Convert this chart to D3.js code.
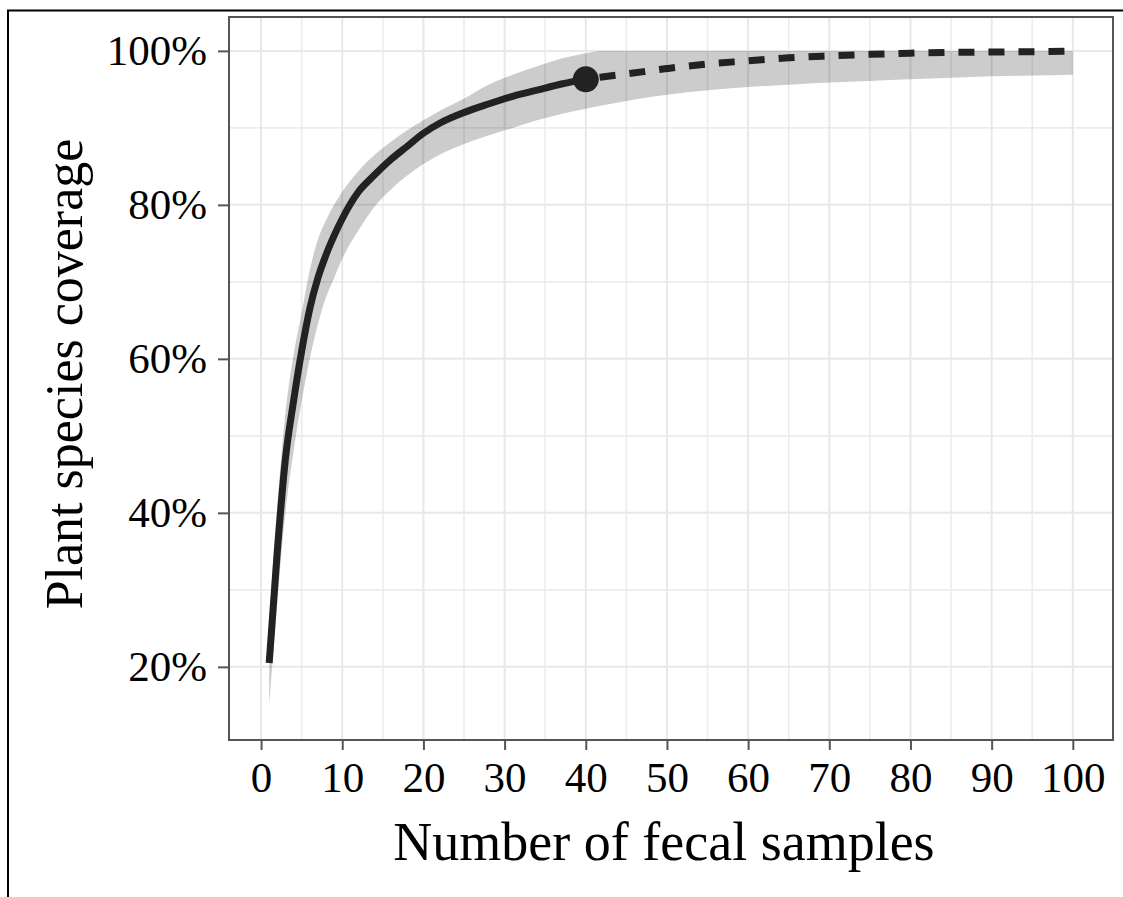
<html>
<head>
<script src="https://d3js.org/d3.v7.min.js"></script>
<style>
  body { margin: 0; background: #fff; }
  text { font-family: "Liberation Serif", "Times New Roman", serif; fill: #000; }
</style>
</head>
<body>
<svg width="1123" height="897"></svg>
<script>
// rarefaction part (observed samples)
const sizes    = [1, 2, 3, 4, 5, 6, 7, 8, 9, 10, 12, 14, 16, 18, 20, 22, 25, 28, 31, 34, 37, 40];
const coverage = [20.5, 35, 47, 54.5, 61, 66.5, 70.5, 73.5, 76, 78.2, 81.7, 83.9, 85.9, 87.6, 89.3, 90.6, 92.0, 93.1, 94.1, 94.9, 95.7, 96.3];
const lower    = [15, 28.5, 40, 48, 54.5, 60, 64.5, 68, 70.5, 73, 76.7, 79.8, 82, 83.8, 85.3, 86.5, 87.9, 89.0, 90.0, 91.0, 91.8, 92.5];
const upper    = [26, 41, 53, 60.5, 66, 71.5, 75.5, 78, 80, 81.7, 84.4, 86.5, 88.2, 89.7, 91, 92.2, 93.8, 95.6, 96.9, 98.0, 99.0, 99.7];

// extrapolation part
const extSizes    = [40, 42, 45, 50, 55, 60, 65, 70, 75, 80, 85, 90, 95, 100];
const extCoverage = [96.3, 96.6, 97.0, 97.7, 98.3, 98.7, 99.1, 99.35, 99.55, 99.7, 99.8, 99.85, 99.9, 99.95];
const extLower    = [92.5, 92.9, 93.5, 94.3, 94.9, 95.3, 95.6, 95.9, 96.1, 96.3, 96.5, 96.7, 96.8, 96.9];
const extUpper    = [99.7, 100, 100, 100, 100, 100, 100, 100, 100, 100, 100, 100, 100, 100];

const observed = { size: 40, cov: 96.3 };

const xTicks = [0, 10, 20, 30, 40, 50, 60, 70, 80, 90, 100];
const xMinor = [5, 15, 25, 35, 45, 55, 65, 75, 85, 95];
const yTicks = [20, 40, 60, 80, 100];
const yMinor = [30, 50, 70, 90];

const pLeft = 229, pRight = 1113, pTop = 17, pBottom = 740;

let x = d3.scaleLinear().domain([-3.95, 104.95]).range([pLeft, pRight]),
    y = d3.scaleLinear().domain([10.5, 104.4]).range([pBottom, pTop]);

let svg = d3.select('svg');

// outer figure frame (top + left edges only)
svg.append('path')
  .attr('d', `M8,897 L8,10.5 L1123,10.5`)
  .attr('fill', 'none')
  .attr('stroke', '#000')
  .attr('stroke-width', 2);

// grid
let grid = svg.append('g');
grid.selectAll('.vminor').data(xMinor).join('line')
  .attr('x1', d => x(d)).attr('x2', d => x(d))
  .attr('y1', pTop).attr('y2', pBottom)
  .attr('stroke', '#ececec').attr('stroke-width', 1.6);
grid.selectAll('.hminor').data(yMinor).join('line')
  .attr('x1', pLeft).attr('x2', pRight)
  .attr('y1', d => y(d)).attr('y2', d => y(d))
  .attr('stroke', '#ececec').attr('stroke-width', 1.6);
grid.selectAll('.vmajor').data(xTicks).join('line')
  .attr('x1', d => x(d)).attr('x2', d => x(d))
  .attr('y1', pTop).attr('y2', pBottom)
  .attr('stroke', '#e8e8e8').attr('stroke-width', 2);
grid.selectAll('.hmajor').data(yTicks).join('line')
  .attr('x1', pLeft).attr('x2', pRight)
  .attr('y1', d => y(d)).attr('y2', d => y(d))
  .attr('stroke', '#e8e8e8').attr('stroke-width', 2);

// confidence band
let inter = sizes.map((s, i) => ({ s, lo: lower[i], hi: upper[i], c: coverage[i] }));
let extra = extSizes.map((s, i) => ({ s, lo: extLower[i], hi: extUpper[i], c: extCoverage[i] }));
let band = inter.concat(extra.slice(1));

svg.append('path')
  .datum(band)
  .attr('d', d3.area().x(d => x(d.s)).y0(d => y(d.lo)).y1(d => y(d.hi)).curve(d3.curveMonotoneX))
  .attr('fill', '#000')
  .attr('fill-opacity', 0.2);

let line = d3.line().x(d => x(d.s)).y(d => y(d.c)).curve(d3.curveMonotoneX);

svg.append('path')
  .datum(inter)
  .attr('d', line)
  .attr('fill', 'none')
  .attr('stroke', '#222')
  .attr('stroke-width', 7);

svg.append('path')
  .datum(extra)
  .attr('d', line)
  .attr('fill', 'none')
  .attr('stroke', '#222')
  .attr('stroke-width', 7)
  .attr('stroke-dasharray', '16,14')
  .attr('stroke-dashoffset', -14);

svg.append('circle')
  .attr('cx', x(observed.size))
  .attr('cy', y(observed.cov))
  .attr('r', 13)
  .attr('fill', '#222');

// panel border
svg.append('rect')
  .attr('x', pLeft).attr('y', pTop)
  .attr('width', pRight - pLeft).attr('height', pBottom - pTop)
  .attr('fill', 'none')
  .attr('stroke', '#555')
  .attr('stroke-width', 2);

// axes
let xAxis = svg.append('g')
  .attr('transform', `translate(0,${pBottom})`)
  .call(d3.axisBottom(x).tickValues(xTicks).tickSize(10).tickPadding(11).tickFormat(d3.format('d')));
xAxis.select('.domain').remove();
xAxis.selectAll('line').attr('stroke', '#555').attr('stroke-width', 2);
xAxis.selectAll('text').attr('font-size', 43).attr('fill', '#000')
  .attr('font-family', '"Liberation Serif", serif');

let yAxis = svg.append('g')
  .attr('transform', `translate(${pLeft},0)`)
  .call(d3.axisLeft(y).tickValues(yTicks).tickSize(11).tickPadding(11).tickFormat(d => d + '%'));
yAxis.select('.domain').remove();
yAxis.selectAll('line').attr('stroke', '#555').attr('stroke-width', 2);
yAxis.selectAll('text').attr('font-size', 43).attr('fill', '#000')
  .attr('font-family', '"Liberation Serif", serif');

// axis titles
svg.append('text')
  .attr('x', 664).attr('y', 860)
  .attr('text-anchor', 'middle')
  .attr('font-size', 54)
  .text('Number of fecal samples');

svg.append('text')
  .attr('transform', 'translate(82, 374) rotate(-90)')
  .attr('text-anchor', 'middle')
  .attr('font-size', 52)
  .text('Plant species coverage');
</script>
</body>
</html>
